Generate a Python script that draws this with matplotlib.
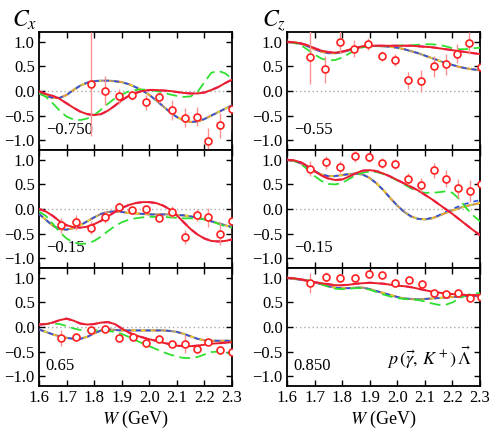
import numpy as np
import matplotlib
matplotlib.use('Agg')
import matplotlib.pyplot as plt

plt.rcParams['font.family'] = ['Liberation Serif', 'DejaVu Serif']
plt.rcParams['mathtext.fontset'] = 'stix'

# photon energy grid of the model curves (GeV)
W_grid = [1.600, 1.625, 1.650, 1.675, 1.700, 1.725, 1.750, 1.775, 1.800, 1.825,
          1.850, 1.875, 1.900, 1.925, 1.950, 1.975, 2.000, 2.025, 2.050, 2.075,
          2.100, 2.125, 2.150, 2.175, 2.200, 2.225, 2.250, 2.275, 2.300]

# --- Cx, cos = -0.750 ---
cx1_red = [-0.01, -0.06, -0.10, -0.16, -0.25, -0.34, -0.42, -0.47, -0.49, -0.47,
           -0.40, -0.30, -0.19, -0.10, -0.04, 0.00, 0.02, 0.02, 0.01, 0.00,
           -0.02, -0.04, -0.05, -0.05, -0.03, 0.02, 0.08, 0.16, 0.23]
cx1_green = [-0.04, -0.12, -0.25, -0.40, -0.52, -0.58, -0.59, -0.56, -0.49, -0.38,
             -0.26, -0.15, -0.07, -0.01, 0.02, 0.03, 0.02, 0.00, -0.03, -0.07,
             -0.10, -0.12, -0.11, -0.02, 0.18, 0.37, 0.41, 0.36, 0.25]
cx1_band = [-0.05, -0.10, -0.14, -0.14, -0.08, 0.02, 0.11, 0.17, 0.20, 0.21,
            0.21, 0.20, 0.18, 0.14, 0.08, 0.01, -0.08, -0.19, -0.31, -0.43,
            -0.53, -0.60, -0.63, -0.62, -0.57, -0.50, -0.43, -0.36, -0.29]
cx1_W = [1.787, 1.839, 1.890, 1.939, 1.987, 2.037, 2.083, 2.128, 2.172, 2.214, 2.255, 2.300]
cx1_val = [0.14, 0.01, -0.11, -0.09, -0.23, -0.13, -0.39, -0.54, -0.52, -1.01, -0.70, -0.37]
cx1_err = [1.05, 0.29, 0.15, 0.09, 0.15, 0.11, 0.20, 0.20, 0.19, 0.25, 0.25, 0.45]

# --- Cz, cos = -0.55 ---
cz1_red = [1.00, 0.99, 0.97, 0.93, 0.87, 0.82, 0.79, 0.78, 0.80, 0.84,
           0.88, 0.91, 0.92, 0.92, 0.92, 0.92, 0.92, 0.92, 0.92, 0.91,
           0.90, 0.89, 0.87, 0.85, 0.83, 0.81, 0.79, 0.77, 0.75]
cz1_green = [1.00, 0.98, 0.93, 0.84, 0.74, 0.66, 0.62, 0.63, 0.68, 0.76,
             0.84, 0.89, 0.91, 0.91, 0.91, 0.92, 0.92, 0.93, 0.93, 0.94,
             0.95, 0.95, 0.94, 0.91, 0.87, 0.85, 0.85, 0.87, 0.88]
cz1_band = [1.00, 0.99, 0.96, 0.91, 0.85, 0.80, 0.77, 0.77, 0.79, 0.83,
            0.87, 0.90, 0.91, 0.92, 0.91, 0.90, 0.88, 0.85, 0.81, 0.77,
            0.72, 0.67, 0.62, 0.57, 0.53, 0.49, 0.46, 0.44, 0.42]
cz1_W = [1.684, 1.739, 1.792, 1.843, 1.894, 1.944, 1.993, 2.040, 2.086, 2.132, 2.176, 2.218, 2.260, 2.304]
cz1_val = [0.69, 0.44, 1.00, 0.86, 0.95, 0.71, 0.63, 0.22, 0.20, 0.50, 0.54, 0.76, 0.97, 0.49]
cz1_err = [0.55, 0.28, 0.22, 0.17, 0.12, 0.10, 0.13, 0.17, 0.22, 0.22, 0.22, 0.20, 0.22, 0.45]

# --- Cx, cos = -0.15 ---
cx2_red = [0.00, -0.05, -0.14, -0.25, -0.33, -0.37, -0.38, -0.36, -0.31, -0.24,
           -0.15, -0.06, 0.02, 0.08, 0.12, 0.14, 0.14, 0.12, 0.07, -0.01,
           -0.13, -0.27, -0.41, -0.52, -0.60, -0.65, -0.66, -0.65, -0.62]
cx2_green = [-0.05, -0.14, -0.30, -0.47, -0.60, -0.68, -0.71, -0.70, -0.65, -0.56,
             -0.45, -0.35, -0.27, -0.22, -0.19, -0.17, -0.16, -0.16, -0.16, -0.17,
             -0.18, -0.19, -0.19, -0.19, -0.21, -0.25, -0.30, -0.35, -0.38]
cx2_band = [-0.10, -0.22, -0.34, -0.41, -0.42, -0.39, -0.33, -0.25, -0.17, -0.10,
            -0.06, -0.05, -0.06, -0.08, -0.09, -0.10, -0.11, -0.11, -0.11, -0.11,
            -0.12, -0.13, -0.15, -0.18, -0.21, -0.25, -0.29, -0.33, -0.37]
cx2_W = [1.678, 1.734, 1.787, 1.839, 1.890, 1.939, 1.987, 2.037, 2.083, 2.128, 2.172, 2.214, 2.256, 2.300]
cx2_val = [-0.33, -0.27, -0.38, -0.16, 0.04, -0.03, -0.01, -0.18, -0.06, -0.57, -0.12, -0.17, -0.50, -0.24]
cx2_err = [0.15, 0.15, 0.13, 0.12, 0.10, 0.06, 0.10, 0.07, 0.13, 0.15, 0.13, 0.20, 0.23, 0.35]

# --- Cz, cos = -0.15 ---
cz2_red = [1.00, 0.99, 0.95, 0.87, 0.77, 0.68, 0.62, 0.59, 0.60, 0.66,
           0.73, 0.78, 0.79, 0.77, 0.72, 0.66, 0.59, 0.52, 0.45, 0.38,
           0.29, 0.20, 0.10, 0.00, -0.10, -0.21, -0.32, -0.43, -0.53]
cz2_green = [1.00, 0.98, 0.92, 0.80, 0.67, 0.57, 0.51, 0.50, 0.53, 0.61,
             0.69, 0.74, 0.76, 0.75, 0.71, 0.65, 0.58, 0.50, 0.42, 0.36,
             0.33, 0.33, 0.34, 0.36, 0.33, 0.20, 0.02, -0.13, -0.25]
cz2_band = [1.00, 0.98, 0.93, 0.85, 0.77, 0.70, 0.67, 0.67, 0.69, 0.71,
            0.72, 0.70, 0.63, 0.52, 0.38, 0.22, 0.07, -0.06, -0.15, -0.20,
            -0.21, -0.19, -0.14, -0.08, -0.03, 0.02, 0.06, 0.09, 0.12]
cz2_blue = [1.00, 0.98, 0.93, 0.85, 0.77, 0.70, 0.67, 0.67, 0.69, 0.71,
            0.72, 0.70, 0.63, 0.52, 0.38, 0.22, 0.07, -0.06, -0.15, -0.20,
            -0.21, -0.18, -0.13, -0.06, 0.00, 0.06, 0.11, 0.15, 0.18]
cz2_W = [1.684, 1.740, 1.792, 1.845, 1.896, 1.945, 1.993, 2.040, 2.086, 2.132, 2.177, 2.219, 2.262, 2.304]
cz2_val = [0.82, 0.95, 0.86, 1.07, 1.05, 0.94, 0.91, 0.61, 0.49, 0.79, 0.62, 0.42, 0.37, 0.50]
cz2_err = [0.15, 0.13, 0.12, 0.12, 0.10, 0.10, 0.10, 0.13, 0.15, 0.15, 0.18, 0.20, 0.23, 0.33]

# --- Cx, cos = 0.65 ---
cx3_red = [0.05, 0.06, 0.09, 0.14, 0.17, 0.13, 0.07, 0.05, 0.06, 0.09,
           0.10, 0.06, -0.03, -0.11, -0.17, -0.21, -0.25, -0.28, -0.32, -0.35,
           -0.38, -0.39, -0.39, -0.38, -0.36, -0.34, -0.33, -0.32, -0.31]
cx3_green = [0.05, 0.06, 0.07, 0.06, 0.02, -0.03, -0.06, -0.07, -0.07, -0.07,
             -0.08, -0.10, -0.14, -0.20, -0.27, -0.33, -0.39, -0.45, -0.51, -0.56,
             -0.60, -0.63, -0.63, -0.61, -0.56, -0.51, -0.50, -0.52, -0.55]
cx3_band = [-0.05, -0.10, -0.15, -0.19, -0.22, -0.24, -0.24, -0.20, -0.13, -0.07,
            -0.05, -0.06, -0.07, -0.07, -0.07, -0.07, -0.07, -0.07, -0.07, -0.08,
            -0.10, -0.14, -0.19, -0.24, -0.27, -0.28, -0.28, -0.28, -0.28]
cx3_W = [1.678, 1.735, 1.787, 1.839, 1.890, 1.940, 1.987, 2.037, 2.084, 2.128, 2.172, 2.214, 2.258, 2.300]
cx3_val = [-0.22, -0.20, -0.06, -0.04, -0.23, -0.20, -0.33, -0.24, -0.35, -0.34, -0.44, -0.31, -0.47, -0.50]
cx3_err = [0.16, 0.05, 0.04, 0.04, 0.04, 0.04, 0.04, 0.04, 0.04, 0.18, 0.04, 0.04, 0.04, 0.04]

# --- Cz, cos = 0.850 ---
cz3_red = [1.00, 0.99, 0.97, 0.94, 0.91, 0.89, 0.87, 0.85, 0.85, 0.86,
           0.88, 0.89, 0.90, 0.89, 0.88, 0.86, 0.84, 0.83, 0.81, 0.78,
           0.75, 0.72, 0.70, 0.68, 0.67, 0.66, 0.65, 0.65, 0.64]
cz3_green = [1.00, 0.99, 0.97, 0.95, 0.92, 0.87, 0.82, 0.78, 0.77, 0.78,
             0.79, 0.79, 0.76, 0.71, 0.66, 0.62, 0.59, 0.57, 0.56, 0.55,
             0.52, 0.48, 0.45, 0.45, 0.50, 0.58, 0.65, 0.68, 0.69]
cz3_band = [1.00, 0.98, 0.96, 0.94, 0.91, 0.87, 0.83, 0.80, 0.79, 0.79,
            0.80, 0.80, 0.77, 0.73, 0.69, 0.65, 0.61, 0.58, 0.57, 0.56,
            0.57, 0.58, 0.59, 0.60, 0.61, 0.62, 0.63, 0.63, 0.63]
cz3_W = [1.684, 1.740, 1.793, 1.845, 1.896, 1.946, 1.993, 2.042, 2.088, 2.133, 2.178, 2.219, 2.262, 2.305]
cz3_val = [0.90, 1.01, 1.00, 1.00, 1.08, 1.06, 0.89, 0.95, 0.88, 0.69, 0.67, 0.69, 0.58, 0.61]
cz3_err = [0.20, 0.10, 0.07, 0.05, 0.05, 0.05, 0.08, 0.05, 0.05, 0.05, 0.05, 0.05, 0.05, 0.05]

panels = [
    # (col, row, red, green, band, blue, W, val, err, label)
    (0, 0, cx1_red, cx1_green, cx1_band, cx1_band, cx1_W, cx1_val, cx1_err, '\u22120.750'),
    (1, 0, cz1_red, cz1_green, cz1_band, cz1_band, cz1_W, cz1_val, cz1_err, '\u22120.55'),
    (0, 1, cx2_red, cx2_green, cx2_band, cx2_band, cx2_W, cx2_val, cx2_err, '\u22120.15'),
    (1, 1, cz2_red, cz2_green, cz2_band, cz2_blue, cz2_W, cz2_val, cz2_err, '\u22120.15'),
    (0, 2, cx3_red, cx3_green, cx3_band, cx3_band, cx3_W, cx3_val, cx3_err, '0.65'),
    (1, 2, cz3_red, cz3_green, cz3_band, cz3_band, cz3_W, cz3_val, cz3_err, '0.850'),
]

fig = plt.figure(figsize=(4.98, 4.36), dpi=100)
lefts = [39 / 498, 287 / 498]
width = 193 / 498
height = 118 / 436
bottom0 = 1 - 386 / 436

for col, row, red, green, band, blue, W, val, err, label in panels:
    ax = fig.add_axes([lefts[col], bottom0 + (2 - row) * height, width, height])
    ax.axhline(0, color='#aaaaaa', lw=1.0, ls=(0, (1, 2)), zorder=1)
    ax.plot(W_grid, band, color='#a09080', lw=1.6, zorder=2)
    ax.plot(W_grid, band, color='#f0a030', lw=1.2, ls=(0, (4, 3)), zorder=3)
    ax.plot(W_grid, band, color='#e8e020', lw=1.0, ls=(2, (2, 4)), zorder=3)
    ax.plot(W_grid, blue, color='#3050e0', lw=1.2, ls=(0, (3, 3)), zorder=4)
    ax.plot(W_grid, green, color='#30e030', lw=1.3, ls=(0, (6, 3)), zorder=5)
    ax.plot(W_grid, red, color='#ff40c0', lw=1.6, ls=(0, (3, 3)), zorder=5)
    ax.plot(W_grid, red, color='#e8202a', lw=1.4, zorder=6)
    ax.errorbar(W, val, yerr=err, fmt='none', ecolor='#ff9090', elinewidth=1.0, zorder=7)
    ax.plot(W, val, 'o', mfc='white', mec='#ff2020', mew=1.2, ms=5, zorder=8)

    ax.set_xlim(1.6, 2.3)
    ax.set_ylim(-1.2, 1.2)
    ax.set_xticks(np.arange(1.6, 2.31, 0.1))
    ax.set_yticks([-1.0, -0.5, 0.0, 0.5, 1.0])
    ax.set_yticklabels(['\u22121.0', '\u22120.5', '0.0', '0.5', '1.0'])
    ax.tick_params(direction='in', top=True, right=True, length=4, width=1.0,
                   labelsize=12, pad=3)
    for sp in ax.spines.values():
        sp.set_linewidth(1.3)
    if row == 2:
        ax.set_xticklabels(['1.6', '1.7', '1.8', '1.9', '2.0', '2.1', '2.2', '2.3'])
        ax.set_xlabel('$W$ (GeV)', fontsize=13, labelpad=2)
    else:
        ax.set_xticklabels([])
    ax.text(0.035, 0.1, label, transform=ax.transAxes, fontsize=12, va='bottom')
    if col == 1 and row == 2:
        ax.text(0.96, 0.24, r'$p\,(\vec{\gamma},\,K^+)\,\vec{\Lambda}$',
                transform=ax.transAxes, fontsize=13, ha='right', va='center')

fig.text(12 / 498, 1 - 27 / 436, '$C_x$', fontsize=17)
fig.text(262 / 498, 1 - 27 / 436, '$C_z$', fontsize=17)

fig.savefig('out.png', dpi=100)
